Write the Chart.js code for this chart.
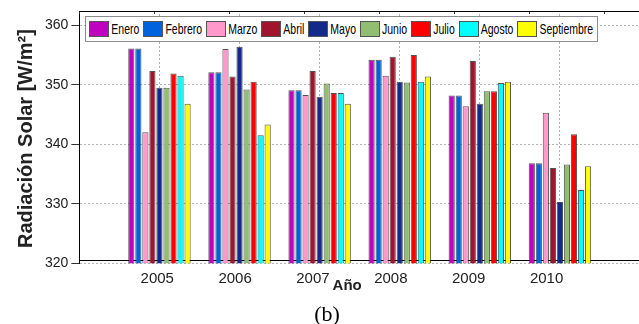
<!DOCTYPE html>
<html>
<head>
<meta charset="utf-8">
<script src="https://cdn.jsdelivr.net/npm/chart.js@4.4.0/dist/chart.umd.min.js"></script>
<style>
    html, body { margin: 0; padding: 0; background: #fff; overflow: hidden; }
    #wrap { position: relative; width: 650px; height: 324px; }
    #legend {
        position: absolute;
        display: flex;
        align-items: center;
        background: #fff;
        border: 1px solid #8c8c8c;
        padding: 4px 0 4px 3px;
        font-family: "Liberation Sans", Arial, sans-serif;
        font-size: 10.5px;
        color: #000;
        white-space: nowrap;
    }
    #legend .sw { width: 20px; height: 16px; box-sizing: border-box; border: 1px solid #555; }
    #legend .txt { display: inline-block; margin: 0 4px 0 2px; transform: scaleY(1.35); }
</style>
</head>
<body>
<div id="wrap">
    <canvas id="chart"></canvas>
    <div id="legend"></div>
</div>
<script>
const years = [2005, 2006, 2007, 2008, 2009, 2010];
const months = ["Enero", "Febrero", "Marzo", "Abril", "Mayo", "Junio", "Julio", "Agosto", "Septiembre"];
const monthColors = ["#bf00bf", "#0062dc", "#ff99cc", "#a0142e", "#142a8a", "#92be72", "#ff0000", "#00ffff", "#ffff00"];

const enero      = [356.1, 352.1, 349.1, 354.2, 348.2, 336.8];
const febrero    = [356.1, 352.1, 349.1, 354.2, 348.2, 336.8];
const marzo      = [342.0, 356.0, 348.3, 351.5, 346.4, 345.3];
const abril      = [352.3, 351.4, 352.3, 354.7, 354.0, 336.0];
const mayo       = [349.5, 356.4, 348.0, 350.5, 346.8, 330.3];
const junio      = [349.5, 349.2, 350.2, 350.4, 348.9, 336.6];
const julio      = [351.9, 350.5, 348.6, 355.0, 348.9, 341.7];
const agosto     = [351.5, 341.5, 348.6, 350.5, 350.3, 332.3];
const septiembre = [346.8, 343.3, 346.8, 351.4, 350.5, 336.3];

const yTicks = [320, 330, 340, 350, 360];

const monthValues = [enero, febrero, marzo, abril, mayo, junio, julio, agosto, septiembre];

// bar slots: one empty slot on each side of the years
const slotLabels = ["", ...years.map(String), ""];

Chart.defaults.font.family = '"Liberation Sans", Arial, sans-serif';
Chart.defaults.color = "#222";

const datasets = months.map((m, i) => ({
    label: m,
    data: [null, ...monthValues[i], null],
    backgroundColor: monthColors[i],
    borderColor: "rgba(40, 40, 40, 0.8)",
    borderWidth: 1,
    categoryPercentage: 0.79,
    barPercentage: 0.88,
    xAxisID: "x"
}));

const gridGray = "#b0b0b0";

const chart = new Chart(document.getElementById("chart"), {
    type: "bar",
    data: { labels: slotLabels, datasets: datasets },
    options: {
        responsive: true,
        maintainAspectRatio: false,
        animation: false,
        layout: { padding: { left: 14, right: 10, top: 14, bottom: 0 } },
        plugins: {
            legend: { display: false },
            tooltip: { enabled: false },
            title: {
                display: true,
                position: "bottom",
                text: "(b)",
                color: "#000",
                font: { family: '"Liberation Serif", "Times New Roman", serif', size: 22, weight: "normal", lineHeight: 0.9 },
                padding: { top: 4, bottom: -4 }
            }
        },
        scales: {
            x: {
                type: "category",
                position: "bottom",
                offset: false,
                ticks: { display: false },
                grid: {
                    offset: false,
                    color: ctx => (ctx.index > 0 && ctx.index < slotLabels.length - 1) ? gridGray : "rgba(0,0,0,0)",
                    drawTicks: false
                },
                border: { color: "#000", dash: [2, 2] }
            },
            xYears: {
                type: "linear",
                position: "bottom",
                offset: false,
                min: 2004,
                max: 2011.2,
                afterBuildTicks: axis => { axis.ticks = years.map(v => ({ value: v })); },
                ticks: { callback: v => String(v), font: { size: 15 }, color: "#222", padding: 10, maxRotation: 0, autoSkip: false },
                grid: { display: false, drawTicks: false, offset: false },
                border: { display: false },
                title: {
                    display: true,
                    text: "Año      ",
                    color: "#222",
                    font: { size: 15, weight: "bold" },
                    padding: { top: -21, bottom: 6 }
                }
            },
            xTop: {
                type: "linear",
                position: "top",
                offset: false,
                min: 0,
                max: 7.48,
                ticks: { display: false, stepSize: 1, includeBounds: false },
                grid: { offset: false, drawOnChartArea: false, drawTicks: true, tickLength: -3, tickColor: "#333" },
                border: { color: "#000" }
            },
            y: {
                min: 320,
                max: 361.9,
                afterBuildTicks: axis => { axis.ticks = yTicks.map(v => ({ value: v })); },
                ticks: { font: { size: 14 }, color: "#222", padding: 3 },
                grid: { color: gridGray, tickLength: 8, tickColor: "#333", tickBorderDash: [] },
                border: { color: "#000", dash: [2, 2] },
                title: {
                    display: true,
                    text: "Radiación Solar [W/m²]",
                    color: "#222",
                    font: { size: 20, weight: "bold" },
                    padding: { top: 0, bottom: 4 }
                }
            }
        }
    }
});

// legend box inside the plot, top left
const legendEl = document.getElementById("legend");
months.forEach((m, i) => {
    const sw = document.createElement("span");
    sw.className = "sw";
    sw.style.background = monthColors[i];
    const txt = document.createElement("span");
    txt.className = "txt";
    txt.textContent = m;
    legendEl.appendChild(sw);
    legendEl.appendChild(txt);
});
legendEl.style.left = (chart.chartArea.left + 6) + "px";
legendEl.style.top = (chart.chartArea.top + 2) + "px";
</script>
</body>
</html>
